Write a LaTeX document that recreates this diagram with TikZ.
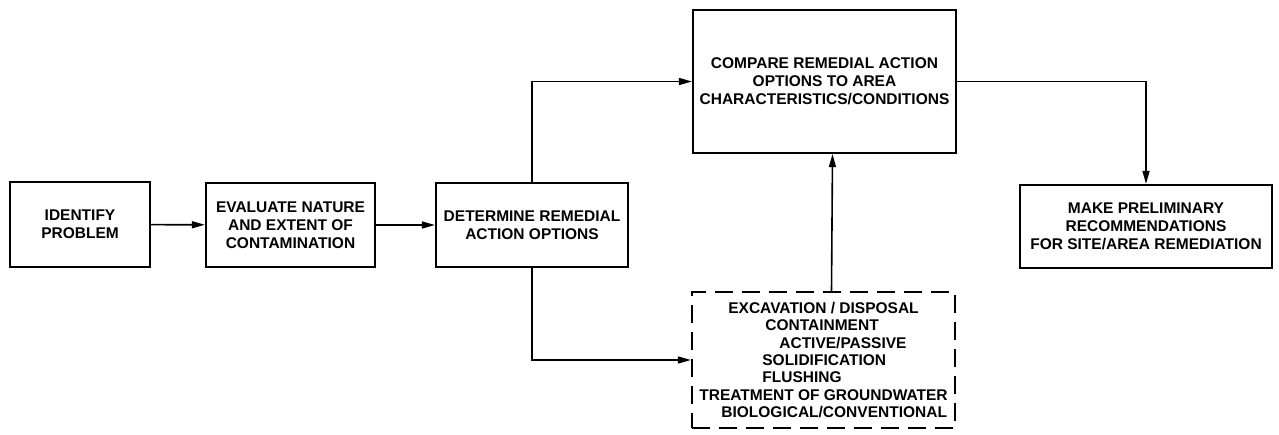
\documentclass[tikz,border=0pt]{standalone}
\usepackage{fontspec}
\setmainfont{Liberation Sans}
\usetikzlibrary{
  arrows.meta,
}

\tikzset{
  procbox/.style={draw, line width=2.2pt, align=center, inner sep=0pt,
    font=\fontsize{15.5}{18}\selectfont\bfseries},
  optbox/.style={procbox, dash pattern=on 18pt off 9pt, align=left,
    font=\fontsize{15.5}{17.3}\selectfont\bfseries},
  flow/.style={line width=1.6pt, -{Triangle[length=13pt,width=7pt]}},
}

\begin{document}
\begin{tikzpicture}[x=1pt,y=-1pt]
\useasboundingbox (0,0) rectangle (1279,435);
\node[procbox, minimum width=140pt, minimum height=85pt] (identify) at (80,224.5)
  {IDENTIFY\\PROBLEM};
\node[procbox, minimum width=169pt, minimum height=84pt] (evaluate) at (290.5,225)
  {EVALUATE NATURE\\AND EXTENT OF\\CONTAMINATION};
\node[procbox, minimum width=192pt, minimum height=84pt] (determine) at (532,225)
  {DETERMINE REMEDIAL\\ACTION OPTIONS};
\node[procbox, minimum width=263pt, minimum height=143pt] (compare) at (824.5,81.5)
  {COMPARE REMEDIAL ACTION\\OPTIONS TO AREA\\CHARACTERISTICS/CONDITIONS};
\node[procbox, minimum width=252pt, minimum height=83pt] (make) at (1146,226.5)
  {MAKE PRELIMINARY\\RECOMMENDATIONS\\FOR SITE/AREA REMEDIATION};
\node[optbox, minimum width=263pt, minimum height=136pt] (options) at (823.5,360)
  {\hspace*{29pt}EXCAVATION / DISPOSAL\\
   \hspace*{66pt}CONTAINMENT\\
   \hspace*{80pt}ACTIVE/PASSIVE\\
   \hspace*{63pt}SOLIDIFICATION\\
   \hspace*{63pt}FLUSHING\\
   TREATMENT OF GROUNDWATER\\
   \hspace*{22pt}BIOLOGICAL/CONVENTIONAL};

\draw[flow] (identify) -- (evaluate);
\draw[flow] (evaluate) -- (determine);
\draw[flow] (determine.north) |- (compare.west);
\draw[flow] (determine.south) |- (options.west);
\draw[flow] ([xshift=8pt]options.north) -- ([xshift=8pt]compare.south);
\draw[flow] (compare.east) -| (make.north);
\end{tikzpicture}
\end{document}
